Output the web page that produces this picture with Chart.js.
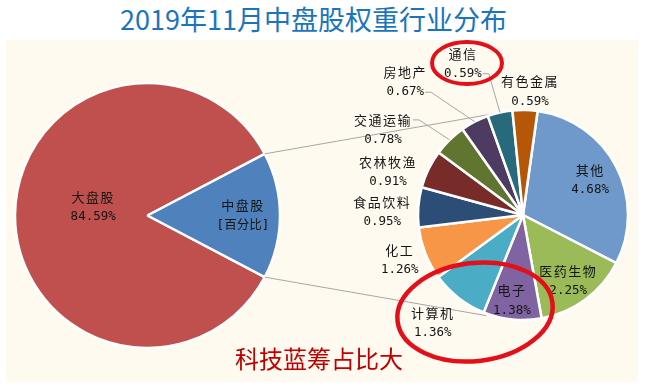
<!DOCTYPE html>
<html lang="zh">
<head>
<meta charset="UTF-8">
<title>2019年11月中盘股权重行业分布</title>
<script src="https://cdn.jsdelivr.net/npm/chart.js"></script>
<style>
    body { margin: 0; width: 651px; height: 390px; background: #fff; position: relative; overflow: hidden; font-family: "Noto Sans CJK SC", sans-serif; }
    #title { position: absolute; left: 0; top: 0; width: 627px; text-align: center; font-size: 27px; line-height: 38px; color: #1B75BC; }
    #panel { position: absolute; left: 6px; top: 40px; width: 632px; height: 342px; background: #FEFAF0; }
    canvas { position: absolute; left: 0; top: 0; }
    #note { position: absolute; left: 235px; top: 341px; font-size: 24px; line-height: 34px; color: #C00000; }
</style>
</head>
<body>
<div id="title">2019年11月中盘股权重行业分布</div>
<div id="panel"></div>
<canvas id="mainPie" width="651" height="390"></canvas>
<canvas id="subPie" width="651" height="390"></canvas>
<div id="note">科技蓝筹占比大</div>

<script>
    // data
    const mainLabels = ['大盘股', '中盘股'];
    const mainValues = [84.59, 15.41];
    const mainValueText = ['84.59%', '[百分比]'];

    const subLabels = ['其他', '医药生物', '电子', '计算机', '化工', '食品饮料', '农林牧渔', '交通运输', '房地产', '通信', '有色金属'];
    const subValues = [4.68, 2.25, 1.38, 1.36, 1.26, 0.95, 0.91, 0.78, 0.67, 0.59, 0.59];

    const mainColors = ['#C0504D', '#4F81BD'];
    const subColors = ['#7099CB', '#9BBB59', '#8064A2', '#4BACC6', '#F79646', '#2C4D75', '#772C2A', '#5F7530', '#4D3B62', '#276A7C', '#B65708'];

    // label placement: [share of radius, angle shift in degrees, leader row (-1 none)]
    const mainLabelPlace = [[0.415, 9, -1], [0.72, 0, -1]];
    const subLabelPlace = [
        [0.72, 0, -1], [0.76, 2, -1], [0.82, 1.5, -1], [1.34, 2, -1], [1.25, 1.4, -1],
        [1.34, -3, -1], [1.35, -8.3, -1], [1.56, -14.4, 0], [1.69, -14.2, 1], [1.55, -9, 1], [1.18, 2.1, -1]
    ];

    const BORDER = 2.5;
    const NAME_FONT = '13px "Noto Sans CJK SC"';
    const NUM_FONT = '12.5px "DejaVu Sans Mono", "Noto Sans CJK SC"';

    function padFor(cx, cy, r) {
        const half = r + BORDER / 2;
        return { left: cx - half, right: 651 - cx - half, top: cy - half, bottom: 390 - cy - half };
    }

    function fmt(v) { return v.toFixed(2) + '%'; }

    function drawLabel(ctx, x, y, line1, line2) {
        ctx.save();
        ctx.fillStyle = '#151515';
        ctx.textAlign = 'center';
        ctx.textBaseline = 'middle';
        ctx.font = NAME_FONT;
        ctx.letterSpacing = '1.5px';
        ctx.fillText(line1, x, y - 10);
        ctx.font = NUM_FONT;
        ctx.letterSpacing = '0px';
        ctx.fillText(line2, x, y + 10);
        ctx.restore();
    }

    function labelPoint(arc, place) {
        const mid = (arc.startAngle + arc.endAngle) / 2 + place[1] * Math.PI / 180;
        const r = arc.outerRadius * place[0];
        return { x: arc.x + Math.cos(mid) * r, y: arc.y + Math.sin(mid) * r };
    }

    const mainLabelPlugin = {
        id: 'mainLabels',
        afterDatasetsDraw(chart) {
            const ctx = chart.ctx;
            chart.getDatasetMeta(0).data.forEach((arc, i) => {
                const p = labelPoint(arc, mainLabelPlace[i]);
                drawLabel(ctx, p.x, p.y, mainLabels[i], mainValueText[i]);
            });
        }
    };

    const mainTotal = mainValues.reduce((a, b) => a + b, 0);
    const mainRotation = 90 - 360 * (mainValues[0] + mainValues[1] / 2) / mainTotal;

    const mainChart = new Chart(document.getElementById('mainPie'), {
        type: 'pie',
        data: {
            labels: mainLabels,
            datasets: [{
                data: mainValues,
                backgroundColor: mainColors,
                borderColor: '#ffffff',
                borderWidth: BORDER
            }]
        },
        options: {
            responsive: false,
            animation: false,
            rotation: mainRotation,
            layout: { padding: padFor(147.5, 215.5, 132.5) },
            plugins: { legend: { display: false }, tooltip: { enabled: false } }
        },
        plugins: [mainLabelPlugin]
    });

    const subPlugin = {
        id: 'subExtras',
        beforeDatasetsDraw(chart) {
            // lines joining the 中盘股 slice to the breakdown pie
            const ctx = chart.ctx;
            const blue = mainChart.getDatasetMeta(0).data[1];
            const first = chart.getDatasetMeta(0).data[0];
            const cx = first.x, cy = first.y, R = first.outerRadius;
            const a1 = -103.8 * Math.PI / 180, a2 = 110 * Math.PI / 180;
            ctx.save();
            ctx.strokeStyle = '#A6A6A6';
            ctx.lineWidth = 1;
            ctx.beginPath();
            ctx.moveTo(blue.x + Math.cos(blue.startAngle) * blue.outerRadius, blue.y + Math.sin(blue.startAngle) * blue.outerRadius);
            ctx.lineTo(cx + Math.cos(a1) * R, cy + Math.sin(a1) * R);
            ctx.moveTo(blue.x + Math.cos(blue.endAngle) * blue.outerRadius, blue.y + Math.sin(blue.endAngle) * blue.outerRadius);
            ctx.lineTo(cx + Math.cos(a2) * R * 1.02, cy + Math.sin(a2) * R * 1.02);
            ctx.stroke();
            ctx.restore();
        },
        afterDatasetsDraw(chart) {
            const ctx = chart.ctx;
            chart.getDatasetMeta(0).data.forEach((arc, i) => {
                const place = subLabelPlace[i];
                const p = labelPoint(arc, place);
                drawLabel(ctx, p.x, p.y, subLabels[i], fmt(subValues[i]));
                if (place[2] >= 0) {
                    ctx.save();
                    ctx.font = place[2] === 0 ? NAME_FONT : NUM_FONT;
                    ctx.letterSpacing = place[2] === 0 ? '1.5px' : '0px';
                    const w = ctx.measureText(place[2] === 0 ? subLabels[i] : fmt(subValues[i])).width;
                    const ly = p.y + (place[2] === 0 ? -10 : 10);
                    const mid = (arc.startAngle + arc.endAngle) / 2;
                    ctx.strokeStyle = '#A6A6A6';
                    ctx.lineWidth = 1;
                    ctx.beginPath();
                    ctx.moveTo(p.x + w / 2 + 1, ly);
                    ctx.lineTo(p.x + w / 2 + 7, ly);
                    ctx.lineTo(arc.x + Math.cos(mid) * arc.outerRadius, arc.y + Math.sin(mid) * arc.outerRadius);
                    ctx.stroke();
                    ctx.restore();
                }
            });
        },
        afterDraw(chart) {
            // red highlight rings
            const ctx = chart.ctx;
            ctx.save();
            ctx.strokeStyle = '#E3101A';
            ctx.lineWidth = 4;
            ctx.beginPath();
            ctx.ellipse(467, 63, 35, 21, 0, 0, Math.PI * 2);
            ctx.stroke();
            ctx.lineWidth = 4.5;
            ctx.beginPath();
            ctx.ellipse(475, 312, 78, 49, -0.12, 0, Math.PI * 2);
            ctx.stroke();
            ctx.restore();
        }
    };

    new Chart(document.getElementById('subPie'), {
        type: 'pie',
        data: {
            labels: subLabels,
            datasets: [{
                data: subValues,
                backgroundColor: subColors,
                borderColor: '#ffffff',
                borderWidth: BORDER
            }]
        },
        options: {
            responsive: false,
            animation: false,
            rotation: 8,
            layout: { padding: padFor(523, 215, 105) },
            plugins: { legend: { display: false }, tooltip: { enabled: false } }
        },
        plugins: [subPlugin]
    });
</script>
</body>
</html>
